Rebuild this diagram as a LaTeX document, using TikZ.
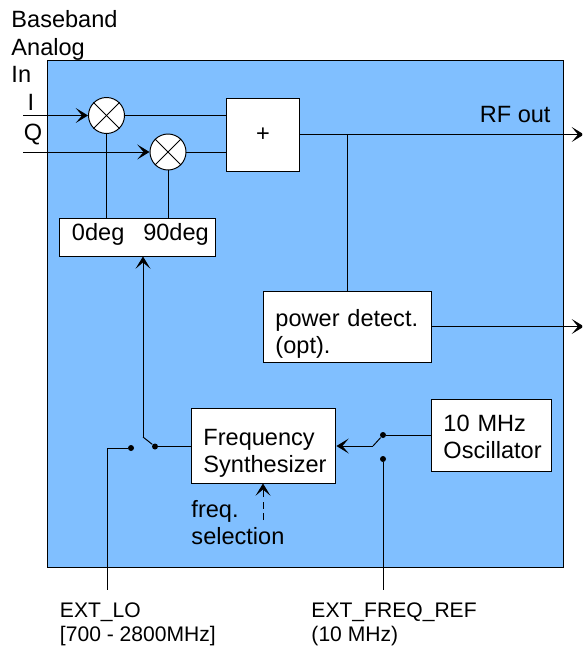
\documentclass[tikz,border=0pt]{standalone}
\usepackage{fontspec}
\setmainfont{Liberation Sans}
\usepackage{tikz}
\usetikzlibrary{arrows.meta}

\definecolor{boardblue}{HTML}{80BFFF}

\tikzset{
    txt/.style={inner sep=0pt,align=left,font=\fontsize{13.4}{15.5}\selectfont},
    small/.style={inner sep=0pt,align=left,font=\fontsize{12}{13.7}\selectfont},
    box/.style={txt,draw,fill=white,anchor=west,inner xsep=0.24cm},
    mixer/.style={circle,draw,fill=white,inner sep=0pt,minimum size=0.72cm},
    dot/.style={circle,fill=black,inner sep=0pt,minimum size=0.12cm},
    arr/.style={-{Stealth[length=7pt,width=8.5pt,inset=3.6pt]}},
}

\begin{document}
\begin{tikzpicture}[x=0.02cm,y=-0.02cm,line width=0.55pt]

    \clip (0,0) rectangle (582,648);

    \node[draw,fill=boardblue,inner sep=0pt,minimum width=10.34cm,minimum height=10.16cm] (board) at (305.5,314) {};

    \node[txt,anchor=west] (bbin) at (11,46.5) {Baseband\\Analog\\In};
    \node[txt,anchor=center] (ilabel) at (31,102) {I};
    \node[txt,anchor=center] (qlabel) at (33,135) {Q};
    \node[txt,anchor=east] (rfout) at (551,115) {RF out};

    \node[mixer] (mixi) at (106.5,115.5) {};
    \node[mixer] (mixq) at (168,152) {};
    \foreach \m in {mixi,mixq}
    {
        \draw (\m.45) -- (\m.225);
        \draw (\m.135) -- (\m.315);
    }

    \node[box,align=center,inner xsep=0pt,anchor=center,minimum width=1.45cm,minimum height=1.45cm] (sum) at (263,135) {+};
    \node[box,inner xsep=0.1cm,text width=2.93cm,minimum height=0.76cm,text depth=0.2cm] (phase) at (59,237) {\hspace*{0.15cm}0deg\hspace{0.38cm}90deg};
    \node[box,text width=2.88cm,minimum height=1.42cm,text depth=0.34cm] (detect) at (263,326.5) {power detect.\\(opt).};
    \node[box,text width=2.41cm,minimum height=1.5cm,text depth=0.32cm] (synth) at (191,445.5) {Frequency\\Synthesizer};
    \node[box,text width=1.92cm,minimum height=1.44cm,text depth=0.46cm] (osc) at (431,435) {10 MHz\\Oscillator};

    \node[txt,anchor=west] (fsel) at (191,522.5) {freq.\\selection};
    \node[small,anchor=west] (extlo) at (59.5,624) {EXT\_LO\\{}[700 - 2800MHz]};
    \node[small,anchor=west] (extref) at (311,624) {EXT\_FREQ\_REF\\(10 MHz)};

    \node[dot] (losw) at (131,448) {};
    \node[dot] (synthsw) at (155,446.5) {};
    \node[dot] (oscsw) at (383,435) {};
    \node[dot] (refsw) at (383,459) {};

    \coordinate (iin) at (23,115.5);
    \coordinate (qin) at (23,152);
    \coordinate (rfend) at (584,134.5);
    \coordinate (detend) at (584,326.5);
    \coordinate (tap) at (347,134.5);
    \coordinate (lobend) at (107,448);
    \coordinate (loend) at (107,590);
    \coordinate (refend) at (383,590);
    \coordinate (pivotl) at (143,437);
    \coordinate (pivotr) at (373,446);
    \coordinate (fseltail) at (263,520);

    % mixers
    \draw[arr] (iin) -- (mixi);
    \draw[arr] (qin) -- (mixq);
    \draw (mixi.east) -- (mixi.east -| sum.west);
    \draw (mixq.east) -- (mixq.east -| sum.west);
    \draw (mixi.south) -- (mixi.south |- phase.north);
    \draw (mixq.south) -- (mixq.south |- phase.north);

    % outputs
    \draw[arr] (tap -| sum.east) -- (rfend);
    \draw (tap) -- (tap |- detect.north);
    \draw[arr] (detect.east) -- (detend);

    % switches
    \draw (synthsw) -- (synthsw -| synth.west);
    \draw (synthsw) -- (pivotl);
    \draw[arr] (pivotl) -- (pivotl |- phase.south);
    \draw (losw) -- (lobend) -- (loend);
    \draw (oscsw) -- (oscsw -| osc.west);
    \draw (oscsw) -- (pivotr);
    \draw[arr] (pivotr) -- (pivotr -| synth.east);
    \draw (refsw) -- (refend);
    \draw[arr,dash pattern=on 4pt off 2.5pt] (fseltail) -- (fseltail |- synth.south);

\end{tikzpicture}
\end{document}
